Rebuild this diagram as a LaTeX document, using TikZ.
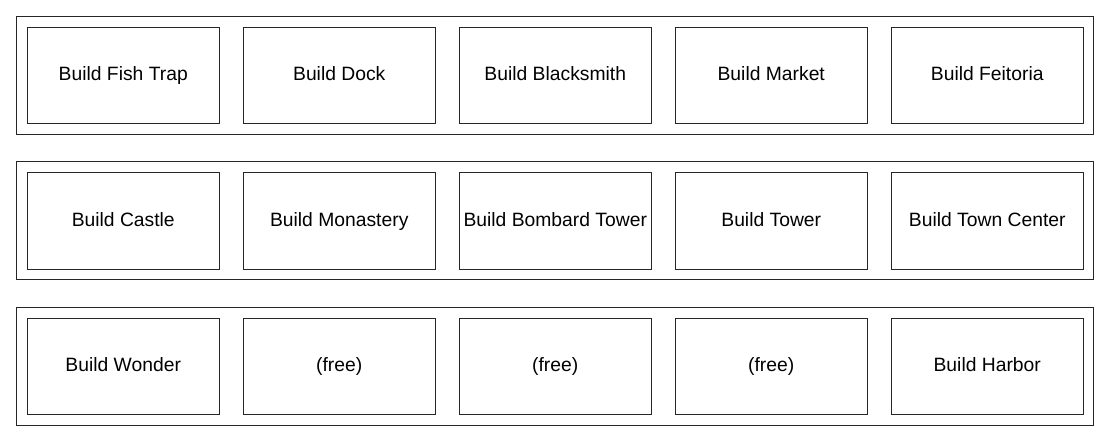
\documentclass[tikz,border=0pt]{standalone}
\usepackage{fontspec}
\setmainfont{Liberation Sans}
\begin{document}
\begin{tikzpicture}[x=1pt,y=-1pt,
  rowbox/.style={draw=black!85,line width=1pt,minimum width=1077pt,minimum height=118pt,inner sep=0pt,anchor=north west},
  task/.style={draw=black!85,line width=1pt,minimum width=191.5pt,minimum height=96pt,inner sep=0pt,text height=14pt,text depth=4pt,font=\fontsize{19.3}{22}\selectfont,anchor=north west}]
\useasboundingbox (0,0) rectangle (1109,441);
\node[rowbox] (r1) at (16,16) {};
\node[rowbox] (r2) at (16,161) {};
\node[rowbox] (r3) at (16,306.5) {};
\foreach \lab [count=\i] in {Build Fish Trap,Build Dock,Build Blacksmith,Build Market,Build Feitoria}
  \node[task] (a\i) at ({27+216*(\i-1)},27) {\lab};
\foreach \lab [count=\i] in {Build Castle,Build Monastery,Build Bombard Tower,Build Tower,Build Town Center}
  \node[task] (b\i) at ({27+216*(\i-1)},172.5) {\lab};
\foreach \lab [count=\i] in {Build Wonder,(free),(free),(free),Build Harbor}
  \node[task] (c\i) at ({27+216*(\i-1)},318) {\lab};
\end{tikzpicture}
\end{document}
